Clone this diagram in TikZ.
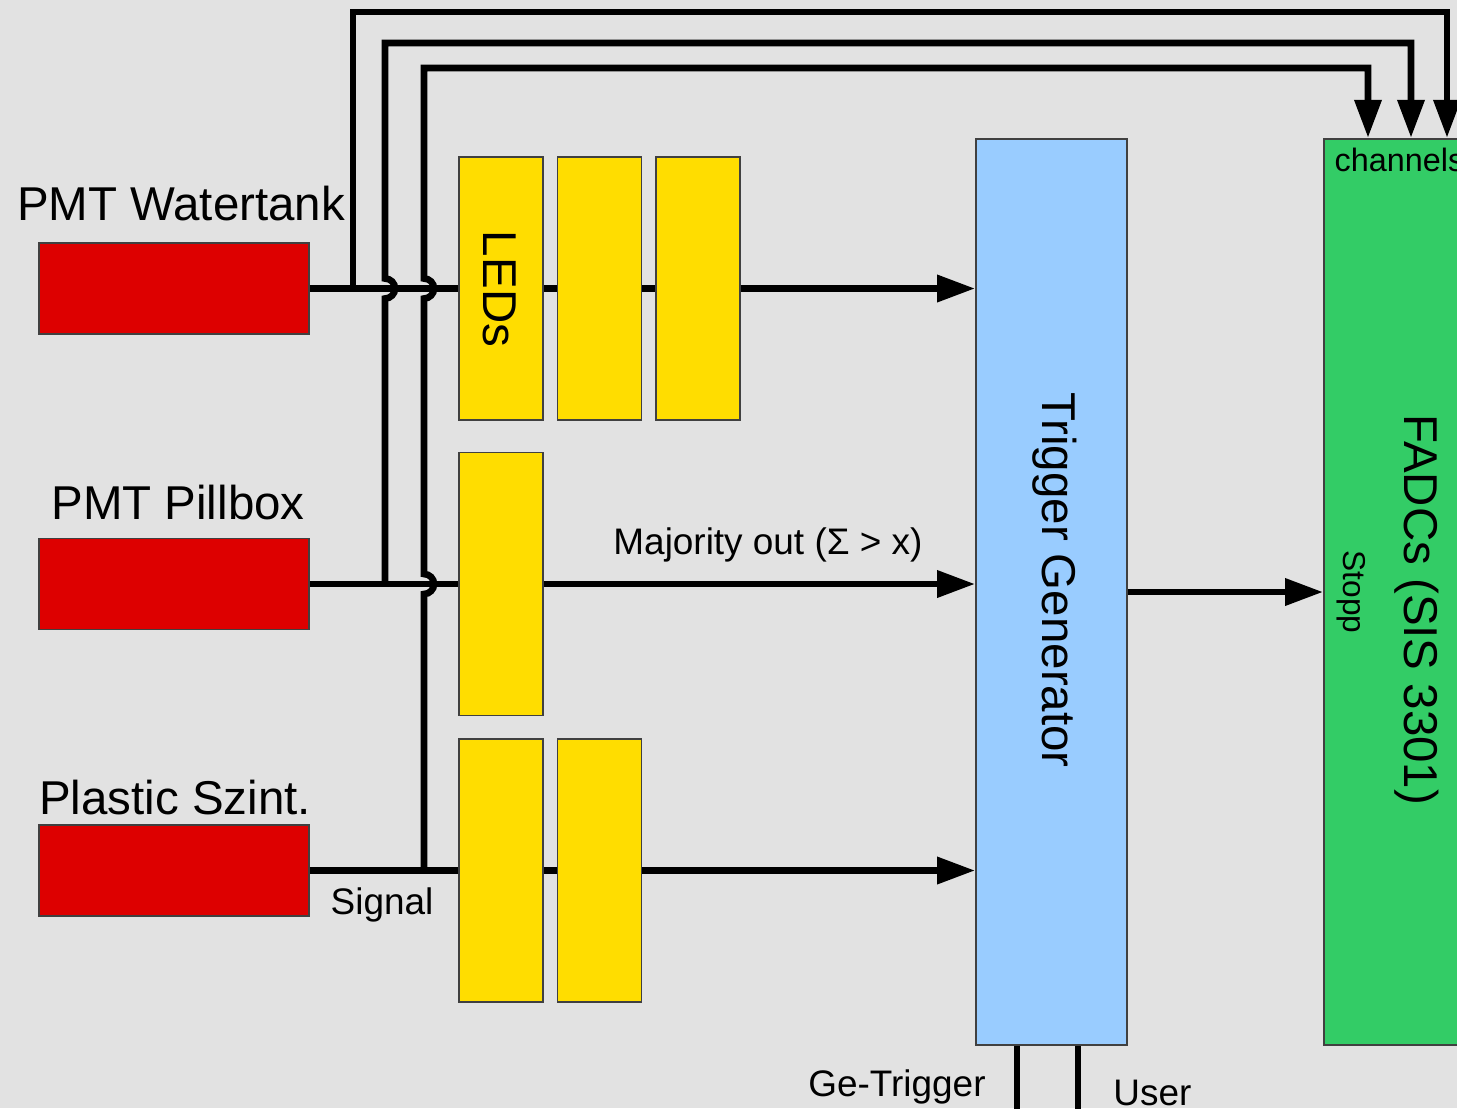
\documentclass[tikz,border=0pt]{standalone}
\usepackage{fontspec}
\setmainfont{Liberation Sans}
\usetikzlibrary{arrows.meta}
\definecolor{pmtred}{HTML}{DD0000}
\definecolor{ledyellow}{HTML}{FFDD00}
\definecolor{trigblue}{HTML}{99CCFF}
\definecolor{adcgreen}{HTML}{33CC66}
\definecolor{marble}{HTML}{E2E2E2}

\begin{document}
\begin{tikzpicture}[x=0.01cm, y=-0.01cm,
    box/.style={draw=black!75, line width=0.5pt, inner sep=0pt},
    pmt/.style={box, fill=pmtred, minimum width=2.70cm, minimum height=0.91cm},
    led/.style={box, fill=ledyellow, minimum width=0.84cm, minimum height=2.63cm},
    wire/.style={line width=1.9pt},
    sigarrow/.style={wire, -{Triangle[length=0.38cm, width=0.26cm]}},
    big/.style={font=\fontsize{13.5}{16}\selectfont},
    small/.style={font=\fontsize{10.5}{13}\selectfont}]
        \useasboundingbox (0,0) rectangle (1457,1108);
        \clip (0,0) rectangle (1457,1108);
        \fill[marble] (0,0) rectangle (1457,1108);
        % Detectors
        \node[pmt] (water) at (174,288.5) {};
        \node[big] (waterlbl) at (181,204) {PMT Watertank};
        \node[pmt] (pill) at (174,584) {};
        \node[big] (pilllbl) at (178,503) {PMT Pillbox};
        \node[pmt] (plastic) at (174,870.5) {};
        \node[big] (plasticlbl) at (175,798) {Plastic Szint.};
        % LED modules
        \node[led] (led11) at (501,288.5) {};
        \node[led] (led12) at (599.5,288.5) {};
        \node[led] (led13) at (698,288.5) {};
        \node[big, rotate=-90] (ledlbl) at (500,289) {LEDs};
        \node[led] (led21) at (501,584) {};
        \node[led] (led31) at (501,870.5) {};
        \node[led] (led32) at (599.5,870.5) {};
        % Trigger and FADCs
        \node[box, fill=trigblue, minimum width=1.51cm, minimum height=9.06cm] (trig) at (1051.5,592) {};
        \node[big, rotate=-90] (triglbl) at (1055,580) {Trigger Generator};
        \node[box, fill=adcgreen, minimum width=1.70cm, minimum height=9.06cm] (fadc) at (1409,592) {};
        \node[big, rotate=-90] (fadclbl) at (1417,610) {FADCs (SIS 3301)};
        \node[font=\fontsize{9}{11}\selectfont, rotate=-90] (stopp) at (1351,592) {Stopp};
        \node[font=\fontsize{9.2}{11}\selectfont, anchor=west, inner sep=0pt] (chan) at (1334,160) {channels};
        % Signal chains
        \draw[wire] (water.east) -- (led11.west);
        \draw[wire] (led11.east) -- (led12.west);
        \draw[wire] (led12.east) -- (led13.west);
        \draw[sigarrow] (led13.east) -- (trig.west |- led13.east);
        \draw[wire] (pill.east) -- (led21.west);
        \draw[sigarrow] (led21.east) -- (trig.west |- led21.east);
        \node[small] (majority) at (768,545) {Majority out (Σ > x)};
        \draw[wire] (plastic.east) -- (led31.west);
        \draw[wire] (led31.east) -- (led32.west);
        \draw[sigarrow] (led32.east) -- (trig.west |- led32.east);
        \node[small] (signal) at (382,905) {Signal};
        \draw[sigarrow] (trig.east) -- (fadc.west);
        % Taps to the FADC channels
        \coordinate (tapW) at (353,288.5);
        \coordinate (tapP) at (385,584);
        \coordinate (tapS) at (424,870.5);
        \draw[sigarrow] (tapW) -- (353,12) -- (1447,12) -- (1447,0 |- fadc.north);
        \draw[sigarrow] (tapP) -- (385,298.5) arc[start angle=-90, end angle=90, radius=0.1cm]
            -- (385,43) -- (1411,43) -- (1411,0 |- fadc.north);
        \draw[sigarrow] (tapS) -- (424,594) arc[start angle=-90, end angle=90, radius=0.1cm]
            -- (424,298.5) arc[start angle=-90, end angle=90, radius=0.1cm]
            -- (424,68) -- (1368,68) -- (1368,0 |- fadc.north);
        % Trigger outputs
        \coordinate (geOut) at (1017,1120);
        \coordinate (userOut) at (1078,1120);
        \draw[wire] (geOut |- trig.south) -- (geOut);
        \draw[wire] (userOut |- trig.south) -- (userOut);
        \node[small] (gelbl) at (897,1087) {Ge-Trigger};
        \node[small, anchor=west] (userlbl) at (1101,1093) {User};
      \end{tikzpicture}
\end{document}
